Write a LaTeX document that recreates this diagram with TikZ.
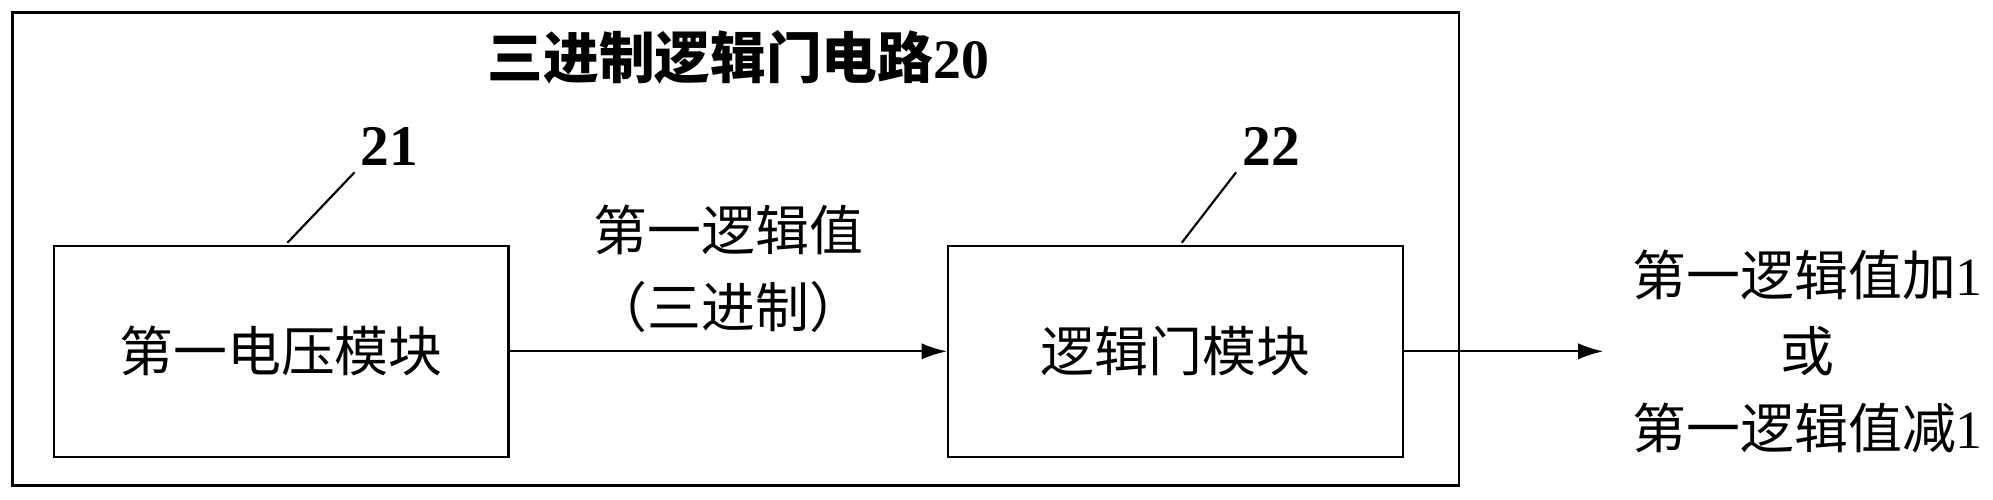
\documentclass[tikz,border=0pt]{standalone}
\usepackage{fontspec}
\setmainfont{Liberation Serif}
\newfontfamily\cjk{Noto Sans CJK SC}
\usetikzlibrary{positioning,arrows.meta}
\begin{document}
\begin{tikzpicture}[x=0.025cm,y=-0.025cm,
    every node/.style={font=\cjk\fontsize{30}{36}\selectfont},
    module/.style={draw, line width=1.2pt, minimum width=356*0.025cm, minimum height=165*0.025cm},
    link/.style={line width=1.2pt, -{Latex[length=14pt,width=9pt]}},
    tag/.style={font=\bfseries\fontsize{32}{36}\selectfont}]
    \useasboundingbox (0,0) rectangle (1560,391);
    \draw[line width=1.5pt] (10,10) rectangle (1142,380);
    \node[font=\cjk\bfseries\fontsize{31}{36}\selectfont] (title) at (578,45) {三进制逻辑门电路\textbf{\rmfamily 20}};
    \node[module] (volt) at (220,275) {第一电压模块};
    \node[module] (gate) at (920,275) {逻辑门模块};
    % reference labels
    \node[tag] (n21) at (305,115) {21};
    \node[tag] (n22) at (995,115) {22};
    \coordinate (c21) at (225,190);
    \coordinate (c22) at (925,190);
    \draw[line width=1.2pt] (c21) -- (n21.south west);
    \draw[line width=1.2pt] (c22) -- (n22.south west);
    % signals
    \draw[link] (volt) -- (gate);
    \node (val) at (570,180) {第一逻辑值};
    \node (tern) at (570,240) {（三进制）};
    \node[align=center, font=\cjk\fontsize{30}{42.5}\selectfont] (out) at (1415,275) {第一逻辑值加{\rmfamily 1}\\或\\第一逻辑值减{\rmfamily 1}};
    \coordinate (tip) at (1255,275);
    \draw[link] (gate.east) -- (tip);
\end{tikzpicture}
\end{document}
